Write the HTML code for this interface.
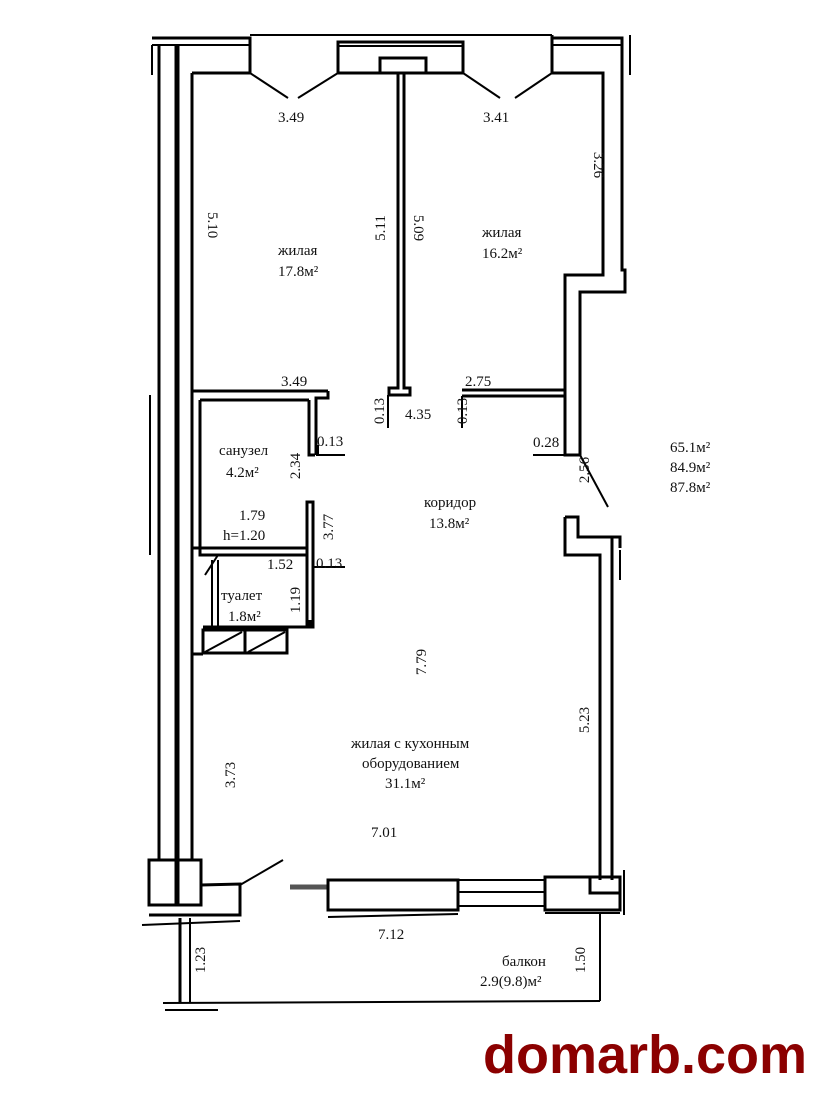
<!DOCTYPE html>
<html><head><meta charset="utf-8"><style>
html,body{margin:0;padding:0;background:#fff;width:820px;height:1096px;overflow:hidden}
svg{display:block}
text{font-family:"Liberation Serif",serif;font-size:15px;fill:#111}
.l{fill:#8b0000;font-family:"Liberation Sans",sans-serif;font-weight:bold;font-size:54px}
</style></head><body>
<svg width="820" height="1096" viewBox="0 0 820 1096" xmlns="http://www.w3.org/2000/svg">
<g stroke="#000" stroke-width="3" fill="none" stroke-linejoin="miter">
<line x1="159" y1="45" x2="159" y2="860"/>
<line x1="177" y1="45" x2="177" y2="905" stroke-width="5"/>
<line x1="192" y1="73" x2="192" y2="860"/>
<line x1="152" y1="45" x2="152" y2="75" stroke-width="2"/>
<polyline points="152,38 250,38 250,73 192,73"/>
<line x1="152" y1="45" x2="250" y2="45" stroke-width="2"/>
<line x1="250" y1="35" x2="552" y2="35" stroke-width="2"/>
<rect x="338" y="42" width="125" height="31"/>
<line x1="338" y1="46" x2="463" y2="46" stroke-width="2"/>
<rect x="380" y="58" width="46" height="15"/>
<polyline points="552,35 552,73 603,73 603,275 565,275 565,455 580,455 580,292 625,292 625,270 622,270 622,38 552,38"/>
<line x1="552" y1="45" x2="622" y2="45" stroke-width="2"/>
<line x1="630" y1="35" x2="630" y2="75" stroke-width="2"/>
<line x1="250" y1="73" x2="288" y2="98" stroke-width="2"/>
<line x1="338" y1="73" x2="298" y2="98" stroke-width="2"/>
<line x1="463" y1="73" x2="500" y2="98" stroke-width="2"/>
<line x1="552" y1="73" x2="515" y2="98" stroke-width="2"/>
<polyline points="398,73 398,388 389,388 389,395 410,395 410,388 404,388 404,73"/>
<polyline points="192,391 328,391"/>
<polyline points="200,400 200,555 308,555"/>
<polyline points="200,400 309,400"/>
<polyline points="309,400 309,455 315,455"/>
<polyline points="328,391 328,398 316,398 316,455"/>
<line x1="316" y1="455" x2="345" y2="455" stroke-width="2"/>
<polyline points="462,390 565,390"/>
<polyline points="462,396 565,396"/>
<line x1="462" y1="396" x2="462" y2="428" stroke-width="2"/>
<line x1="388" y1="395" x2="388" y2="428" stroke-width="2"/>
<line x1="318" y1="445" x2="318" y2="455" stroke-width="2"/>
<line x1="533" y1="455" x2="565" y2="455" stroke-width="2"/>
<line x1="580" y1="455" x2="608" y2="507" stroke-width="2"/>
<rect x="307" y="502" width="6" height="125"/>
<line x1="313" y1="567" x2="345" y2="567" stroke-width="2"/>
<polyline points="192,548 307,548"/>
<line x1="212" y1="560" x2="212" y2="627" stroke-width="2"/>
<line x1="218" y1="560" x2="218" y2="627" stroke-width="2"/>
<line x1="205" y1="575" x2="218" y2="555" stroke-width="2"/>
<polyline points="203,627 310,627 310,620"/>
<rect x="203" y="630" width="42" height="23"/>
<rect x="245" y="630" width="42" height="23"/>
<line x1="205" y1="652" x2="242" y2="632" stroke-width="2"/>
<line x1="248" y1="652" x2="285" y2="632" stroke-width="2"/>
<line x1="192" y1="654" x2="203" y2="654"/>
<polyline points="565,517 578,517 578,537 620,537 620,548"/>
<polyline points="565,517 565,555 600,555 600,880"/>
<line x1="612" y1="537" x2="612" y2="880"/>
<line x1="620" y1="550" x2="620" y2="580" stroke-width="2"/>
<rect x="149" y="860" width="52" height="45"/>
<polyline points="201,885 240,884 240,915 149,915"/>
<line x1="142" y1="925" x2="240" y2="921" stroke-width="2"/>
<line x1="240" y1="885" x2="283" y2="860" stroke-width="2"/>
<line x1="290" y1="887" x2="328" y2="887" stroke-width="5" stroke="#555"/>
<rect x="328" y="880" width="130" height="30"/>
<line x1="328" y1="917" x2="458" y2="914" stroke-width="2"/>
<line x1="458" y1="880" x2="545" y2="880" stroke-width="2"/>
<line x1="458" y1="892" x2="545" y2="892" stroke-width="2"/>
<line x1="458" y1="906" x2="545" y2="906" stroke-width="2"/>
<rect x="545" y="877" width="75" height="33"/>
<polyline points="590,877 590,893 620,893"/>
<line x1="545" y1="913" x2="620" y2="913" stroke-width="2"/>
<line x1="624" y1="870" x2="624" y2="915" stroke-width="2"/>
<line x1="180" y1="918" x2="180" y2="1003"/>
<line x1="190" y1="918" x2="190" y2="1003" stroke-width="2"/>
<line x1="163" y1="1003" x2="600" y2="1001" stroke-width="2"/>
<line x1="165" y1="1010" x2="218" y2="1010" stroke-width="2"/>
<line x1="600" y1="913" x2="600" y2="1001" stroke-width="2"/>
<line x1="150" y1="395" x2="150" y2="555" stroke-width="2"/>
</g>
<g>
<text x="278" y="122">3.49</text>
<text x="483" y="122">3.41</text>
<text x="278" y="255">жилая</text>
<text x="278" y="276">17.8м²</text>
<text x="482" y="237">жилая</text>
<text x="482" y="258">16.2м²</text>
<text transform="translate(208,212) rotate(90)">5.10</text>
<text transform="translate(385,228) rotate(-90)" text-anchor="middle">5.11</text>
<text transform="translate(414,228) rotate(90)" text-anchor="middle">5.09</text>
<text transform="translate(594,165) rotate(90)" text-anchor="middle">3.26</text>
<text x="281" y="386">3.49</text>
<text x="465" y="386">2.75</text>
<text x="405" y="419">4.35</text>
<text transform="translate(384,411) rotate(-90)" text-anchor="middle">0.13</text>
<text transform="translate(467,411) rotate(-90)" text-anchor="middle">0.13</text>
<text x="317" y="446">0.13</text>
<text x="533" y="447">0.28</text>
<text x="219" y="455">санузел</text>
<text x="226" y="477">4.2м²</text>
<text transform="translate(300,466) rotate(-90)" text-anchor="middle">2.34</text>
<text transform="translate(589,470) rotate(-90)" text-anchor="middle">2.56</text>
<text x="424" y="507">коридор</text>
<text x="429" y="528">13.8м²</text>
<text x="239" y="520">1.79</text>
<text x="223" y="540">h=1.20</text>
<text transform="translate(333,527) rotate(-90)" text-anchor="middle">3.77</text>
<text x="267" y="569">1.52</text>
<text x="316" y="568">0.13</text>
<text x="221" y="600">туалет</text>
<text x="228" y="621">1.8м²</text>
<text transform="translate(300,600) rotate(-90)" text-anchor="middle">1.19</text>
<text transform="translate(426,662) rotate(-90)" text-anchor="middle">7.79</text>
<text transform="translate(589,720) rotate(-90)" text-anchor="middle">5.23</text>
<text transform="translate(235,775) rotate(-90)" text-anchor="middle">3.73</text>
<text x="351" y="748">жилая с кухонным</text>
<text x="362" y="768">оборудованием</text>
<text x="385" y="788">31.1м²</text>
<text x="371" y="837">7.01</text>
<text x="378" y="939">7.12</text>
<text transform="translate(205,960) rotate(-90)" text-anchor="middle">1.23</text>
<text transform="translate(585,960) rotate(-90)" text-anchor="middle">1.50</text>
<text x="502" y="966">балкон</text>
<text x="480" y="986">2.9(9.8)м²</text>
<text x="670" y="452">65.1м²</text>
<text x="670" y="472">84.9м²</text>
<text x="670" y="492">87.8м²</text>
<text class="l" x="483" y="1073">domarb.com</text>
</g>
</svg>
</body></html>
